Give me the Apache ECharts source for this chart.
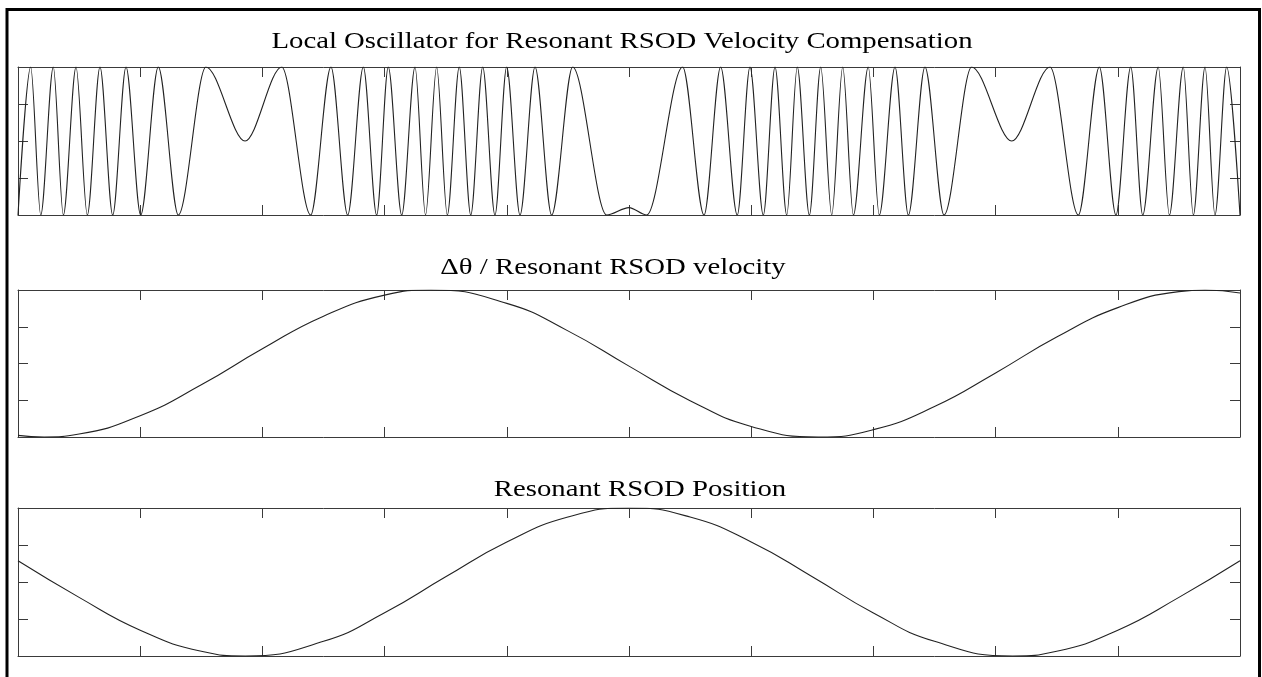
<!DOCTYPE html>
<html>
<head>
<meta charset="utf-8">
<script src="https://cdn.jsdelivr.net/npm/echarts@6/dist/echarts.min.js"></script>
<style>
  html, body { margin: 0; padding: 0; background: #fff; }
  #chart { width: 1262px; height: 677px; }
</style>
</head>
<body>
<div id="chart"></div>
<script>
// titles of the three panels
const titles = [
  "Local Oscillator for Resonant RSOD Velocity Compensation",
  "\u0394\u03b8 / Resonant RSOD velocity",
  "Resonant RSOD Position",
];

// local oscillator: peaks, troughs and dips (x 0..1, y 0..1)
const oscX = [0, 0.0104, 0.0186, 0.0289, 0.0371, 0.0475, 0.0567, 0.0671, 0.0775, 0.0884,
  0.1004, 0.1148, 0.1312, 0.1538, 0.1858, 0.2158, 0.2395, 0.2561, 0.2698, 0.2826,
  0.2935, 0.3030, 0.3140, 0.3249, 0.3335, 0.3426, 0.3513, 0.3611, 0.3705, 0.3803,
  0.3903, 0.3999, 0.4108, 0.4231, 0.4367, 0.4539, 0.4817, 0.5, 0.5145, 0.5439,
  0.5614, 0.5750, 0.5886, 0.5990, 0.6099, 0.6195, 0.6291, 0.6377, 0.6476, 0.6569,
  0.6659, 0.6749, 0.6836, 0.6958, 0.7048, 0.7177, 0.7286, 0.7422, 0.7578, 0.7804,
  0.8132, 0.8445, 0.8677, 0.8849, 0.8985, 0.9106, 0.9204, 0.9331, 0.9422, 0.9536,
  0.9618, 0.9714, 0.9795, 0.9891, 1];
const oscY = [0, 1, 0, 1, 0, 1, 0, 1, 0, 1,
  0, 1, 0, 1, 0.5, 1, 0, 1, 0, 1,
  0, 1, 0, 1, 0, 1, 0, 1, 0, 1,
  0, 1, 0, 1, 0, 1, 0, 0.05, 0, 1,
  0, 1, 0, 1, 0, 1, 0, 1, 0, 1,
  0, 1, 0, 1, 0, 1, 0, 1, 0, 1,
  0.5, 1, 0, 1, 0, 1, 0, 1, 0, 1,
  0, 1, 0, 1, 0];

// delta theta / velocity
const velX = [0, 0.0213, 0.05, 0.10, 0.15, 0.20, 0.25, 0.30, 0.3379, 0.40, 0.45,
  0.50, 0.55, 0.60, 0.6547, 0.70, 0.75, 0.80, 0.85, 0.90, 0.95, 0.9714, 1];
const velY = [0.011, 0, 0.020, 0.145, 0.355, 0.600, 0.822, 0.965, 1, 0.909, 0.722,
  0.482, 0.247, 0.072, 0, 0.050, 0.207, 0.436, 0.680, 0.880, 0.989, 1, 0.980];

// position
const posX = [0, 0.05, 0.10, 0.15, 0.186, 0.25, 0.30, 0.35, 0.40, 0.45, 0.50,
  0.55, 0.60, 0.65, 0.70, 0.75, 0.814, 0.85, 0.90, 0.95, 1];
const posY = [0.643, 0.396, 0.174, 0.032, 0, 0.099, 0.292, 0.535, 0.770, 0.939, 1,
  0.939, 0.771, 0.536, 0.291, 0.099, 0, 0.032, 0.174, 0.396, 0.643];

const xTicks = 0.1;
const yTicks = 0.25;

function pairs(xs, ys) {
  return xs.map((x, i) => [x, ys[i]]);
}

const boxColor = "#3a3a3a";
const panels = [
  { top: 67, height: 148, data: pairs(oscX, oscY), smooth: 0.32, mono: "x" },
  { top: 290, height: 147, data: pairs(velX, velY), smooth: 0.5, mono: null },
  { top: 508, height: 148, data: pairs(posX, posY), smooth: 0.5, mono: null },
];
// title anchors (center x, middle y)
const titlePos = [[622, 42], [613, 268], [640, 490]];

const grid = [], xAxis = [], yAxis = [], series = [];
panels.forEach((p, i) => {
  grid.push({ left: 18, width: 1222, top: p.top, height: p.height, containLabel: false });
  ["bottom", "top"].forEach((pos) => {
    xAxis.push({
      type: "value", gridIndex: i, position: pos, min: 0, max: 1, interval: xTicks,
      axisLine: { show: true, onZero: false, lineStyle: { color: boxColor, width: 1 } },
      axisTick: { show: true, inside: true, length: 10, lineStyle: { color: boxColor, width: 1 } },
      axisLabel: { show: false }, splitLine: { show: false },
    });
  });
  ["left", "right"].forEach((pos) => {
    yAxis.push({
      type: "value", gridIndex: i, position: pos, min: 0, max: 1, interval: yTicks,
      axisLine: { show: true, onZero: false, lineStyle: { color: boxColor, width: 1 } },
      axisTick: { show: true, inside: true, length: 10, lineStyle: { color: boxColor, width: 1 } },
      axisLabel: { show: false }, splitLine: { show: false },
    });
  });
  const s = {
    type: "line",
    xAxisIndex: i * 2,
    yAxisIndex: i * 2,
    data: p.data,
    smooth: p.smooth,
    showSymbol: false,
    lineStyle: { color: "#222", width: 1.1 },
  };
  if (p.mono) s.smoothMonotone = p.mono;
  series.push(s);
});

const graphic = [
  {
    type: "rect", silent: true,
    shape: { x: 7, y: 9.5, width: 1252.5, height: 720 },
    style: { fill: null, stroke: "#000", lineWidth: 3 },
  },
];
titles.forEach((t, i) => {
  graphic.push({
    type: "text", silent: true,
    x: titlePos[i][0], y: titlePos[i][1], scaleX: 1.25,
    style: {
      text: t, fill: "#000", fontSize: 23,
      fontFamily: "'Liberation Serif', 'Times New Roman', serif",
      align: "center", verticalAlign: "middle",
    },
  });
});

const chart = echarts.init(document.getElementById("chart"));
chart.setOption({
  backgroundColor: "#fff",
  animation: false,
  grid: grid,
  xAxis: xAxis,
  yAxis: yAxis,
  series: series,
  graphic: graphic,
});
</script>
</body>
</html>
